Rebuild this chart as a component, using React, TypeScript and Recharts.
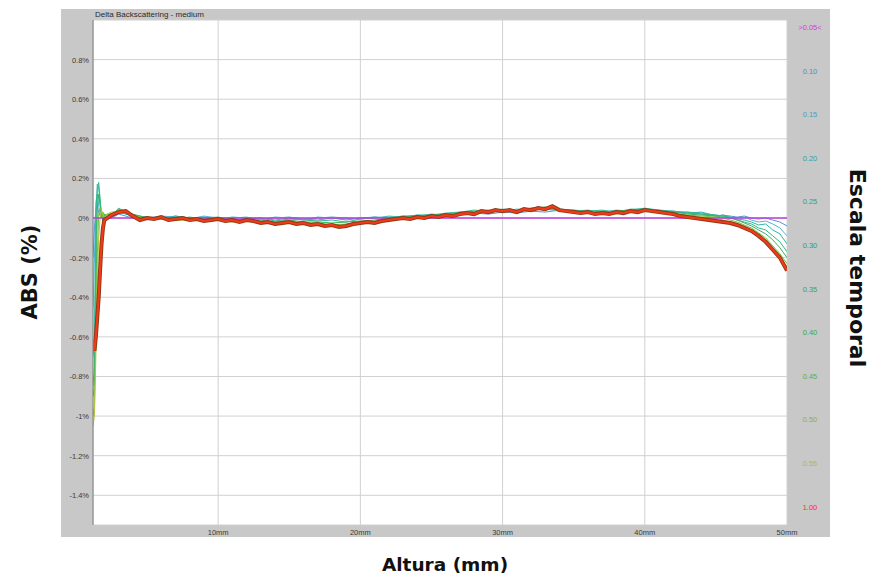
import React from 'react';
import { LineChart, Line, XAxis, YAxis, CartesianGrid } from 'recharts';

// ---------- tick labels ----------
const yTicks = [0.8, 0.6, 0.4, 0.2, 0, -0.2, -0.4, -0.6, -0.8, -1, -1.2, -1.4];
const yTickLabels = ['0.8%', '0.6%', '0.4%', '0.2%', '0%', '-0.2%', '-0.4%', '-0.6%', '-0.8%', '-1%', '-1.2%', '-1.4%'];
const xTicks = [10, 20, 30, 40, 50];
const xTickLabels = ['10mm', '20mm', '30mm', '40mm', '50mm'];
const timeLabels = ['>0.05<', '0.10', '0.15', '0.20', '0.25', '0.30', '0.35', '0.40', '0.45', '0.50', '0.55', '1.00'];
const timeColors = ['#d23ce6', '#4f8ec4', '#4d9cbc', '#3a9f98', '#30a07e', '#2f9d68', '#38a452', '#3faa3a', '#6aae28', '#98ae2a', '#b6b644', '#ff2a2a'];

// ---------- reference scan (t0) ----------
const refMm = [1.2, 50];
const refVals = [0, 0];

// ---------- intermediate scans ----------
const thinMm = [
  1.2, 1.3, 1.4, 1.5, 1.6, 1.7, 1.8, 1.9, 2.0, 2.2, 2.5,
  3, 3.5, 4,
  5, 6, 7, 8, 9, 10, 11, 12, 13, 14,
  15, 16, 17, 18, 19, 20, 21, 22, 23, 24,
  25, 26, 27, 28, 29, 30, 31, 32, 33, 34,
  35, 36, 37, 38, 39, 40, 41, 42, 43, 44,
  45, 45.5, 46, 46.5, 47, 47.5, 48, 48.5, 49, 49.5, 50,
];
const c10 = [
  -0.2, -0.05, 0.04, 0.06, 0.03, 0.01, 0.0, 0.01, 0.0, 0.01, 0.0,
  0.02, 0.01, 0.0,
  0.005, 0.0, 0.01, 0.0, 0.005, -0.005, 0.005, 0.0, -0.005, 0.0,
  0.005, -0.005, 0.0, 0.005, 0.0, -0.005, 0.005, 0.0, 0.01, 0.005,
  0.015, 0.01, 0.02, 0.025, 0.02, 0.03, 0.025, 0.035, 0.03, 0.04,
  0.03, 0.025, 0.035, 0.03, 0.04, 0.035, 0.03, 0.035, 0.025, 0.02,
  0.01, 0.015, 0.01, 0.005, 0.01, 0.0, -0.005, 0.0, -0.01, -0.02, -0.04,
];
const c15 = [
  -0.45, -0.2, 0.08, 0.12, 0.06, 0.02, 0.0, 0.02, 0.01, 0.0, 0.01,
  0.03, 0.02, 0.01,
  0.0, 0.01, 0.005, -0.005, 0.01, 0.0, 0.0, 0.005, -0.01, 0.005,
  0.0, -0.01, 0.005, 0.0, -0.005, 0.0, 0.0, 0.01, 0.005, 0.015,
  0.01, 0.02, 0.025, 0.03, 0.03, 0.035, 0.03, 0.04, 0.045, 0.035,
  0.04, 0.03, 0.03, 0.04, 0.035, 0.045, 0.035, 0.03, 0.03, 0.025,
  0.015, 0.01, 0.005, 0.0, 0.005, -0.01, -0.02, -0.015, -0.03, -0.05, -0.09,
];
const c20 = [
  -0.7, -0.6, 0.0, 0.17, 0.15, 0.08, 0.02, -0.02, 0.02, 0.01, 0.0,
  0.04, 0.02, 0.015,
  0.005, -0.005, 0.01, 0.0, 0.0, 0.005, -0.01, 0.0, 0.0, -0.01,
  0.0, -0.005, -0.01, 0.0, -0.01, 0.0, 0.005, 0.0, 0.01, 0.01,
  0.02, 0.015, 0.03, 0.025, 0.04, 0.035, 0.045, 0.04, 0.05, 0.04,
  0.035, 0.04, 0.03, 0.035, 0.04, 0.05, 0.04, 0.035, 0.025, 0.03,
  0.01, 0.015, 0.0, -0.005, -0.01, -0.02, -0.035, -0.03, -0.06, -0.08, -0.13,
];
const c25 = [
  -0.85, -0.75, -0.2, 0.14, 0.18, 0.1, 0.0, 0.03, 0.0, 0.02, 0.01,
  0.05, 0.03, 0.01,
  0.0, 0.005, -0.005, 0.005, -0.005, 0.0, -0.005, -0.01, 0.0, -0.015,
  -0.005, -0.01, -0.015, -0.01, -0.02, -0.005, 0.0, 0.005, 0.005, 0.015,
  0.015, 0.025, 0.03, 0.04, 0.035, 0.045, 0.04, 0.05, 0.055, 0.045,
  0.04, 0.035, 0.04, 0.03, 0.045, 0.045, 0.04, 0.03, 0.03, 0.02,
  0.015, 0.01, 0.005, -0.01, -0.02, -0.03, -0.05, -0.06, -0.09, -0.12, -0.17,
];
const c30 = [
  -0.9, -0.85, -0.45, 0.05, 0.12, 0.06, 0.02, -0.01, 0.02, 0.0, 0.01,
  0.045, 0.035, 0.02,
  0.0, -0.005, 0.0, -0.01, 0.0, -0.01, -0.005, -0.015, -0.01, -0.02,
  -0.01, -0.02, -0.02, -0.025, -0.02, -0.015, -0.01, 0.0, 0.0, 0.01,
  0.01, 0.02, 0.02, 0.035, 0.03, 0.04, 0.035, 0.05, 0.05, 0.04,
  0.035, 0.03, 0.03, 0.035, 0.04, 0.045, 0.035, 0.03, 0.02, 0.015,
  0.01, 0.005, 0.0, -0.01, -0.025, -0.04, -0.06, -0.08, -0.11, -0.15, -0.2,
];
const c40 = [
  -1.0, -0.95, -0.6, -0.2, 0.02, 0.05, 0.03, 0.0, 0.01, 0.02, 0.02,
  0.04, 0.04, 0.015,
  -0.005, 0.0, -0.01, -0.005, -0.01, -0.005, -0.015, -0.01, -0.02, -0.02,
  -0.015, -0.025, -0.025, -0.035, -0.03, -0.02, -0.015, -0.005, 0.0, 0.005,
  0.01, 0.015, 0.025, 0.03, 0.035, 0.04, 0.035, 0.045, 0.055, 0.035,
  0.03, 0.025, 0.03, 0.025, 0.035, 0.04, 0.03, 0.025, 0.015, 0.01,
  0.005, 0.0, -0.01, -0.02, -0.035, -0.05, -0.075, -0.1, -0.14, -0.18, -0.23,
];
const c50 = [
  -1.05, -1.0, -0.7, -0.35, -0.1, 0.0, 0.04, 0.02, 0.0, 0.02, 0.03,
  0.035, 0.04, 0.01,
  -0.005, -0.005, -0.01, -0.01, -0.015, -0.01, -0.02, -0.015, -0.025, -0.025,
  -0.02, -0.03, -0.03, -0.04, -0.035, -0.025, -0.02, -0.01, -0.005, 0.0,
  0.01, 0.01, 0.02, 0.025, 0.035, 0.035, 0.04, 0.04, 0.055, 0.04,
  0.03, 0.025, 0.025, 0.02, 0.035, 0.04, 0.03, 0.02, 0.01, 0.005,
  0.0, -0.01, -0.02, -0.03, -0.045, -0.06, -0.085, -0.115, -0.155, -0.19, -0.25,
];

// ---------- final scan (1.00) ----------
const redMm = [
  1.2, 1.3, 1.4, 1.5, 1.6, 1.7, 1.8, 1.9, 2.0, 2.2, 2.5,
  3.0, 3.5, 4.0, 4.5, 5.0, 5.5, 6.0, 6.5, 7.0, 7.5,
  8.0, 8.5, 9.0, 9.5, 10.0, 10.5, 11.0, 11.5, 12.0, 12.5,
  13.0, 13.5, 14.0, 14.5, 15.0, 15.5, 16.0, 16.5, 17.0, 17.5,
  18.0, 18.5, 19.0, 19.5, 20.0, 20.5, 21.0, 21.5, 22.0, 22.5,
  23.0, 23.5, 24.0, 24.5, 25.0, 25.5, 26.0, 26.5, 27.0, 27.5,
  28.0, 28.5, 29.0, 29.5, 30.0, 30.5, 31.0, 31.5, 32.0, 32.5,
  33.0, 33.5, 34.0, 34.5, 35.0, 35.5, 36.0, 36.5, 37.0, 37.5,
  38.0, 38.5, 39.0, 39.5, 40.0, 40.5, 41.0, 41.5, 42.0, 42.5,
  43.0, 43.5, 44.0, 44.5, 45.0, 45.5, 46.0, 46.5, 47.0, 47.5,
  48.0, 48.5, 49.0, 49.5, 50.0,
];
const redVals = [
  -0.63, -0.67, -0.6, -0.5, -0.4, -0.26, -0.13, -0.05, -0.01, 0.0, 0.015,
  0.03, 0.035, 0.01, -0.01, 0.0, -0.005, 0.005, -0.01, -0.005, 0.0,
  -0.01, -0.005, -0.015, -0.01, -0.005, -0.015, -0.01, -0.02, -0.01, -0.015,
  -0.025, -0.02, -0.03, -0.025, -0.02, -0.03, -0.025, -0.035, -0.03, -0.04,
  -0.035, -0.045, -0.04, -0.03, -0.025, -0.02, -0.025, -0.015, -0.01, -0.005,
  0.0, -0.005, 0.005, 0.0, 0.01, 0.005, 0.015, 0.01, 0.02, 0.025,
  0.02, 0.035, 0.03, 0.04, 0.035, 0.04, 0.03, 0.045, 0.04, 0.05,
  0.045, 0.06, 0.04, 0.035, 0.03, 0.025, 0.03, 0.02, 0.025, 0.02,
  0.03, 0.025, 0.035, 0.03, 0.04, 0.035, 0.03, 0.025, 0.02, 0.01,
  0.005, 0.0, -0.005, -0.01, -0.015, -0.02, -0.025, -0.035, -0.05, -0.065,
  -0.09, -0.12, -0.16, -0.2, -0.265,
];

const toPts = (mm: number[], v: number[]) => mm.map((x, i) => ({ x, y: v[i] }));

const thinSeries = [
  { name: '0.10', vals: c10, color: '#5a92d2' },
  { name: '0.15', vals: c15, color: '#4fb2d8' },
  { name: '0.20', vals: c20, color: '#2eb4a6' },
  { name: '0.25', vals: c25, color: '#34b886' },
  { name: '0.30', vals: c30, color: '#3cb25e' },
  { name: '0.40', vals: c40, color: '#74c23e' },
  { name: '0.50', vals: c50, color: '#b4c23e' },
];

const FONT = '"Liberation Sans", Arial, sans-serif';
const BOLD = '"DejaVu Sans", Verdana, sans-serif';

const YTick = (props: any) => {
  const { x, y, payload } = props;
  const i = yTicks.indexOf(payload.value);
  return (
    <text x={x} y={y} dy={3} textAnchor="end" fontSize={7.5} fill="#3a3a3a" fontFamily={FONT}>
      {yTickLabels[i]}
    </text>
  );
};
const XTick = (props: any) => {
  const { x, y, payload } = props;
  const i = xTicks.indexOf(payload.value);
  return (
    <text x={x} y={y} dy={8} textAnchor="middle" fontSize={7.5} fill="#3a3a3a" fontFamily={FONT}>
      {xTickLabels[i]}
    </text>
  );
};

export default function App() {
  return (
    <div style={{ position: 'absolute', left: 0, top: 0, width: 872, height: 578, background: '#ffffff' }}>
      <div style={{ position: 'absolute', left: 61, top: 9, width: 769, height: 528, background: '#c8c8c8' }} />
      <div style={{ position: 'absolute', left: 95, top: 9, fontSize: 8, lineHeight: '11px', color: '#2a2a2a', fontFamily: FONT }}>
        Delta Backscattering - medium
      </div>
      {timeLabels.map((t, i) => (
        <div
          key={t}
          style={{
            position: 'absolute', left: 790, width: 40, top: 23 + i * 43.6, textAlign: 'center',
            fontSize: 7.5, lineHeight: '10px', color: timeColors[i], fontFamily: FONT,
          }}
        >
          {t}
        </div>
      ))}
      <div style={{ position: 'absolute', left: 0, top: 0 }}>
        <LineChart width={872} height={578} margin={{ top: 20, right: 85, bottom: 33, left: 63 }}>
          <CartesianGrid stroke="#d0d0d0" fill="#ffffff" strokeWidth={1} />
          <XAxis
            type="number" dataKey="x" domain={[1.2, 50]} ticks={xTicks} allowDataOverflow
            height={20} tickSize={0} tickMargin={2} axisLine={false} tick={<XTick />} interval={0}
          />
          <YAxis
            type="number" dataKey="y" domain={[-1.55, 1.0]} ticks={yTicks} allowDataOverflow
            width={30} tickSize={0} tickMargin={4} axisLine={{ stroke: '#7a7a7a' }} tick={<YTick />} interval={0}
          />
          {thinSeries.map((s) => (
            <Line
              key={s.name} data={toPts(thinMm, s.vals)} dataKey="y" type="linear" stroke={s.color}
              strokeWidth={1} dot={false} isAnimationActive={false}
            />
          ))}
          <Line data={toPts(refMm, refVals)} dataKey="y" type="linear" stroke="#c03ce0" strokeWidth={1.5} dot={false} isAnimationActive={false} />
          <Line data={toPts(redMm, redVals)} dataKey="y" type="linear" stroke="#8a3a14" strokeWidth={4} dot={false} isAnimationActive={false} />
          <Line data={toPts(redMm, redVals)} dataKey="y" type="linear" stroke="#f23a1a" strokeWidth={2.2} dot={false} isAnimationActive={false} />
        </LineChart>
      </div>
      <div style={{ position: 'absolute', left: 30, top: 272, transform: 'translate(-50%, -50%) rotate(-90deg)', whiteSpace: 'nowrap', fontFamily: BOLD, fontWeight: 'bold', fontSize: 21, color: '#111' }}>
        ABS (%)
      </div>
      <div style={{ position: 'absolute', left: 857, top: 268, transform: 'translate(-50%, -50%) rotate(90deg)', whiteSpace: 'nowrap', fontFamily: BOLD, fontWeight: 'bold', fontSize: 22, color: '#111' }}>
        Escala temporal
      </div>
      <div style={{ position: 'absolute', left: 445, top: 564, transform: 'translate(-50%, -50%)', whiteSpace: 'nowrap', fontFamily: BOLD, fontWeight: 'bold', fontSize: 18.5, color: '#111' }}>
        Altura (mm)
      </div>
    </div>
  );
}
